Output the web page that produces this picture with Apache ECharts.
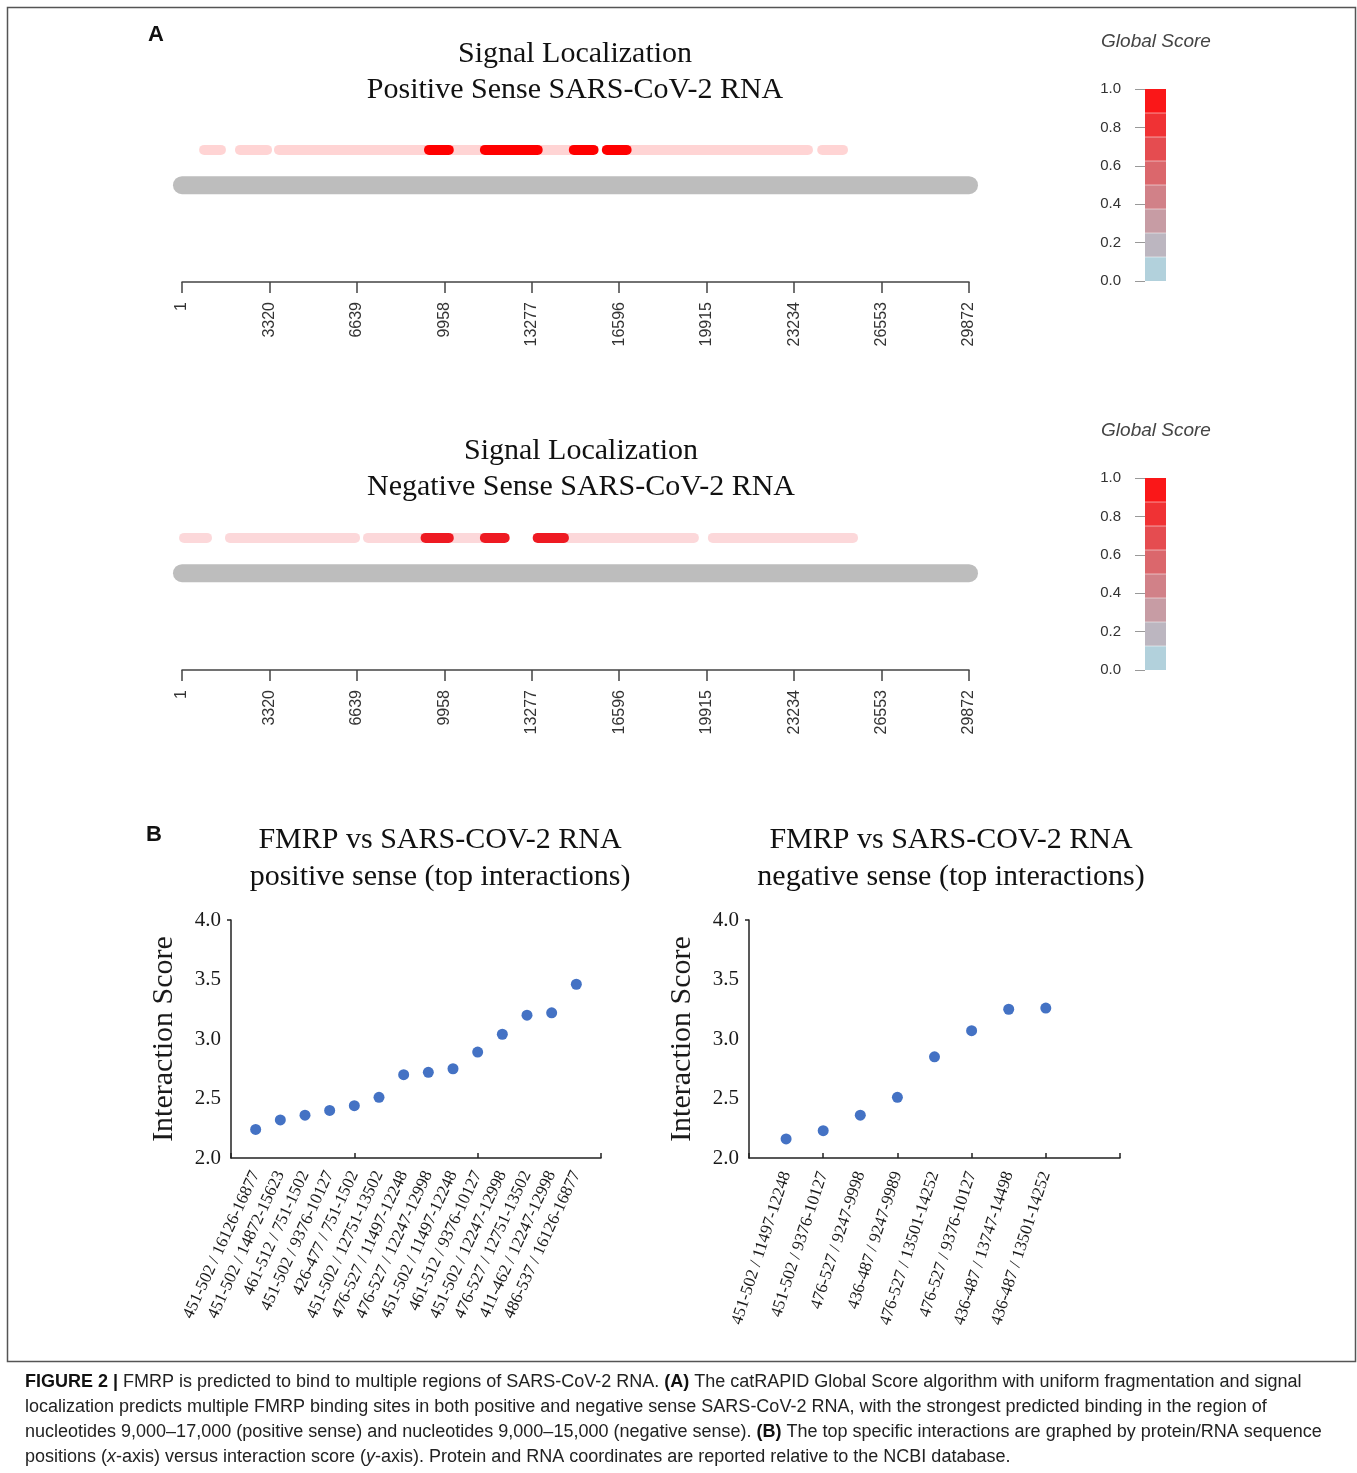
<!DOCTYPE html>
<html><head><meta charset="utf-8">
<script src="https://cdn.jsdelivr.net/npm/echarts@6/dist/echarts.min.js"></script>
<style>html,body{margin:0;padding:0;background:#fff}#c{width:1357px;height:1473px}</style>
</head><body><div id="c"></div>
<script>
// ---------- DATA ----------
const genomeTicks = [1, 3320, 6639, 9958, 13277, 16596, 19915, 23234, 26553, 29872];
const genomeStart = 1;
const genomeEnd = 29872;

// Positive sense signal fragments (nucleotides) and intensity (0..1)
const posSegStart = [840, 2200, 3680, 10127, 13502, 16877, 24300, 9376, 11497, 14872, 16126];
const posSegEnd   = [1480, 3230, 9376, 11497, 14872, 23760, 25090, 10127, 13502, 15623, 16877];
const posSegLevel = [0.17, 0.17, 0.17, 0.17, 0.17, 0.17, 0.17, 1, 1, 1, 1];

// Negative sense signal fragments
const negSegStart = [80, 1820, 7060, 10127, 14498, 20150, 9247, 11497, 13501];
const negSegEnd   = [950, 6570, 9247, 11497, 19430, 25470, 10127, 12248, 14498];
const negSegLevel = [0.17, 0.17, 0.17, 0.17, 0.17, 0.17, 1, 1, 1];

// Global score colour bar bands
const colorbarLevels = [0, 0.125, 0.25, 0.375, 0.5, 0.625, 0.75, 0.875];
const colorbarStep = 0.125;
const colorbarTicks = [0, 0.2, 0.4, 0.6, 0.8, 1.0];

// Panel B: top interactions
const posLabels = [
  '451-502 / 16126-16877', '451-502 / 14872-15623', '461-512 / 751-1502',
  '451-502 / 9376-10127', '426-477 / 751-1502', '451-502 / 12751-13502',
  '476-527 / 11497-12248', '476-527 / 12247-12998', '451-502 / 11497-12248',
  '461-512 / 9376-10127', '451-502 / 12247-12998', '476-527 / 12751-13502',
  '411-462 / 12247-12998', '486-537 / 16126-16877'
];
const posScores = [2.24, 2.32, 2.36, 2.40, 2.44, 2.51, 2.70, 2.72, 2.75, 2.89, 3.04, 3.20, 3.22, 3.46];

const negLabels = [
  '451-502 / 11497-12248', '451-502 / 9376-10127', '476-527 / 9247-9998',
  '436-487 / 9247-9989', '476-527 / 13501-14252', '476-527 / 9376-10127',
  '436-487 / 13747-14498', '436-487 / 13501-14252'
];
const negScores = [2.16, 2.23, 2.36, 2.51, 2.85, 3.07, 3.25, 3.26];

// ---------- STYLE HELPERS ----------
const SERIF = '"Liberation Serif", "Times New Roman", serif';
const SANS = '"Liberation Sans", Arial, sans-serif';
const ROW_SIGNAL = 3.67, ROW_GENOME = 2.69;

function rampColor(t) {
  const a = [173, 222, 234], b = [255, 10, 10];
  const c = a.map((v, i) => Math.round(v + (b[i] - v) * t));
  return 'rgb(' + c.join(',') + ')';
}
function segColor(base) {
  return lv => 'rgba(' + base.join(',') + ',' + lv + ')';
}
function trackItem(rowY, thick, colorFn) {
  return function (params, api) {
    const s = api.coord([api.value(0), rowY]);
    const e = api.coord([api.value(1), rowY]);
    return {
      type: 'rect',
      shape: { x: s[0] - thick / 2, y: s[1] - thick / 2, width: e[0] - s[0] + thick, height: thick, r: thick / 2 },
      style: { fill: colorFn(api.value(2)) }
    };
  };
}
function colorbarItem(params, api) {
  const lv = api.value(0);
  const p0 = api.coord([0, lv]);
  const p1 = api.coord([1, lv + colorbarStep]);
  const children = [{
    type: 'rect',
    shape: { x: p0[0], y: p1[1], width: p1[0] - p0[0], height: p0[1] - p1[1] },
    style: { fill: rampColor(lv + colorbarStep / 2) }
  }];
  if (lv > 0) {
    children.push({ type: 'line', shape: { x1: p0[0], y1: p0[1], x2: p1[0], y2: p0[1] },
      style: { stroke: 'rgba(255,255,255,0.35)', lineWidth: 1.5 } });
  }
  return { type: 'group', children: children };
}
function zip3(a, b, c) { return a.map((v, i) => [v, b[i], c[i]]); }

function trackXAxis(gi) {
  return {
    gridIndex: gi, type: 'value', min: genomeStart, max: genomeEnd, position: 'bottom',
    axisLine: { show: true, lineStyle: { color: '#444', width: 1.5 } },
    axisTick: { show: true, length: 11, lineStyle: { color: '#444', width: 1.5 }, customValues: genomeTicks },
    axisLabel: { show: true, rotate: 90, margin: 20, color: '#333', fontSize: 16, fontFamily: SANS,
      customValues: genomeTicks, formatter: v => String(Math.round(v)) },
    splitLine: { show: false }
  };
}
function hiddenAxis(gi, min, max) {
  return { gridIndex: gi, type: 'value', min: min, max: max, show: false, splitLine: { show: false } };
}
function colorbarYAxis(gi) {
  return {
    gridIndex: gi, type: 'value', min: 0, max: 1, position: 'left', offset: 2,
    axisLine: { show: false },
    axisTick: { show: true, length: 10, lineStyle: { color: '#999', width: 1 }, customValues: colorbarTicks },
    axisLabel: { margin: 22, color: '#333', fontSize: 15, fontFamily: SANS, formatter: v => v.toFixed(1), customValues: colorbarTicks },
    splitLine: { show: false }
  };
}
function scatterYAxis(gi) {
  return {
    gridIndex: gi, type: 'value', min: 2, max: 4, interval: 0.5,
    name: 'Interaction Score', nameLocation: 'middle', nameGap: 52,
    nameTextStyle: { fontFamily: SERIF, fontSize: 30, color: '#1a1a1a' },
    axisLine: { show: true, lineStyle: { color: '#222', width: 1.5 } },
    axisTick: { show: true, length: 4, lineStyle: { color: '#222', width: 1.5 }, customValues: [4] },
    axisLabel: { color: '#1a1a1a', fontSize: 21, fontFamily: SERIF, margin: 10, formatter: v => v.toFixed(1) },
    splitLine: { show: false }
  };
}
function scatterXAxis(gi, max, interval, labels, rot) {
  return {
    gridIndex: gi, type: 'value', min: 0, max: max, interval: interval,
    axisLine: { show: true, lineStyle: { color: '#222', width: 1.5 } },
    axisTick: { show: true, inside: true, length: 5, lineStyle: { color: '#222', width: 1.5 } },
    axisLabel: {
      rotate: rot, margin: 14, color: '#1a1a1a', fontSize: 17, fontFamily: SERIF,
      customValues: labels.map((_, i) => i + 1),
      formatter: v => labels[Math.round(v) - 1] || ''
    },
    splitLine: { show: false }
  };
}
function txt(x, y, text, font, fill) {
  return { type: 'text', x: x, y: y, style: { text: text, font: font, fill: fill || '#111', align: 'center', verticalAlign: 'middle' } };
}

const chart = echarts.init(document.getElementById('c'), null, { renderer: 'canvas' });
const CAP = 18;
const capRich = {
  b: { fontWeight: 'bold', fontSize: CAP, fontFamily: SANS, fill: '#111' },
  i: { fontStyle: 'italic', fontSize: CAP, fontFamily: SANS, fill: '#222' }
};
function capLine(y, text) {
  return { type: 'text', x: 25, y: y, style: { text: text, fontSize: CAP, fontFamily: SANS, fill: '#222', align: 'left', verticalAlign: 'middle', rich: capRich } };
}

const option = {
  backgroundColor: '#fff',
  animation: false,
  grid: [
    { left: 182, width: 787, top: 138, height: 144, outerBoundsMode: 'none' },
    { left: 182, width: 787, top: 526, height: 144, outerBoundsMode: 'none' },
    { left: 1145, width: 21, top: 89, height: 192, outerBoundsMode: 'none' },
    { left: 1145, width: 21, top: 478, height: 192, outerBoundsMode: 'none' },
    { left: 231, width: 370, top: 920, height: 238, outerBoundsMode: 'none' },
    { left: 749, width: 371, top: 920, height: 238, outerBoundsMode: 'none' }
  ],
  xAxis: [
    trackXAxis(0), trackXAxis(1),
    hiddenAxis(2, 0, 1), hiddenAxis(3, 0, 1),
    scatterXAxis(4, 15, 5, posLabels, 65),
    scatterXAxis(5, 10, 2, negLabels, 72)
  ],
  yAxis: [
    hiddenAxis(0, 0, 4), hiddenAxis(1, 0, 4),
    colorbarYAxis(2), colorbarYAxis(3),
    scatterYAxis(4), scatterYAxis(5)
  ],
  series: [
    { type: 'custom', xAxisIndex: 0, yAxisIndex: 0, data: [[genomeStart, genomeEnd, 0]],
      renderItem: trackItem(ROW_GENOME, 18, () => '#bdbdbd') },
    { type: 'custom', xAxisIndex: 0, yAxisIndex: 0, data: zip3(posSegStart, posSegEnd, posSegLevel),
      renderItem: trackItem(ROW_SIGNAL, 10, segColor([255, 0, 0])) },
    { type: 'custom', xAxisIndex: 1, yAxisIndex: 1, data: [[genomeStart, genomeEnd, 0]],
      renderItem: trackItem(ROW_GENOME, 18, () => '#bdbdbd') },
    { type: 'custom', xAxisIndex: 1, yAxisIndex: 1, data: zip3(negSegStart, negSegEnd, negSegLevel),
      renderItem: trackItem(ROW_SIGNAL, 10, segColor([238, 26, 34])) },
    { type: 'custom', xAxisIndex: 2, yAxisIndex: 2, data: colorbarLevels.map(v => [v]), renderItem: colorbarItem },
    { type: 'custom', xAxisIndex: 3, yAxisIndex: 3, data: colorbarLevels.map(v => [v]), renderItem: colorbarItem },
    { type: 'scatter', xAxisIndex: 4, yAxisIndex: 4, symbolSize: 11, itemStyle: { color: '#4472c4', opacity: 1 },
      data: posScores.map((v, i) => [i + 1, v]) },
    { type: 'scatter', xAxisIndex: 5, yAxisIndex: 5, symbolSize: 11, itemStyle: { color: '#4472c4', opacity: 1 },
      data: negScores.map((v, i) => [i + 1, v]) }
  ],
  graphic: [
    { type: 'rect', shape: { x: 7.5, y: 7.5, width: 1348, height: 1354 }, style: { fill: 'none', stroke: '#555', lineWidth: 1.5 } },
    txt(156, 35, 'A', 'bold 22px ' + SANS, '#111'),
    txt(154, 835, 'B', 'bold 22px ' + SANS, '#111'),
    txt(575, 54, 'Signal Localization', '30px ' + SERIF),
    txt(575, 90, 'Positive Sense SARS-CoV-2 RNA', '30px ' + SERIF),
    txt(581, 451, 'Signal Localization', '30px ' + SERIF),
    txt(581, 487, 'Negative Sense SARS-CoV-2 RNA', '30px ' + SERIF),
    txt(1156, 42, 'Global Score', 'italic 19px ' + SANS, '#444'),
    txt(1156, 431, 'Global Score', 'italic 19px ' + SANS, '#444'),
    txt(440, 840, 'FMRP vs SARS-COV-2 RNA', '30px ' + SERIF),
    txt(440, 877, 'positive sense (top interactions)', '30px ' + SERIF),
    txt(951, 840, 'FMRP vs SARS-COV-2 RNA', '30px ' + SERIF),
    txt(951, 877, 'negative sense (top interactions)', '30px ' + SERIF),
    capLine(1382, '{b|FIGURE 2 |} FMRP is predicted to bind to multiple regions of SARS-CoV-2 RNA. {b|(A)} The catRAPID Global Score algorithm with uniform fragmentation and signal'),
    capLine(1407, 'localization predicts multiple FMRP binding sites in both positive and negative sense SARS-CoV-2 RNA, with the strongest predicted binding in the region of'),
    capLine(1432, 'nucleotides 9,000–17,000 (positive sense) and nucleotides 9,000–15,000 (negative sense). {b|(B)} The top specific interactions are graphed by protein/RNA sequence'),
    capLine(1457, 'positions ({i|x}-axis) versus interaction score ({i|y}-axis). Protein and RNA coordinates are reported relative to the NCBI database.')
  ]
};
chart.setOption(option);
</script>
</body></html>
